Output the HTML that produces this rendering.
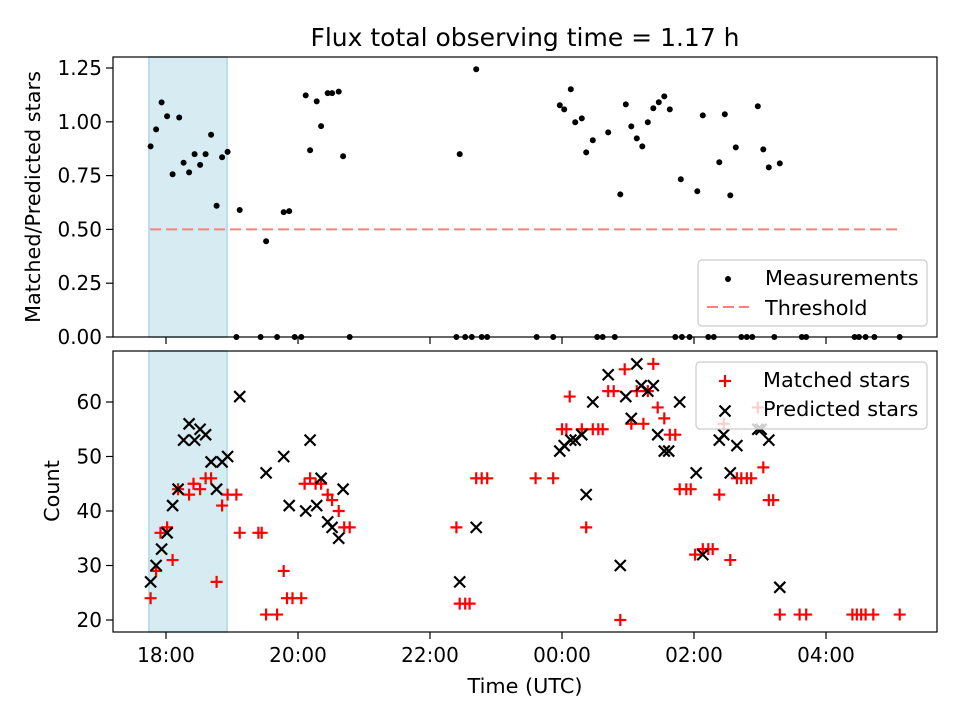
<!DOCTYPE html>
<html><head><meta charset="utf-8"><style>
html,body{margin:0;padding:0;background:#fff;}
svg{display:block;font-family:"DejaVu Sans","Liberation Sans",sans-serif;}
</style></head><body>
<svg id="chart" width="960" height="720" viewBox="0 0 960 720" xmlns="http://www.w3.org/2000/svg">
<text x="525" y="46" font-size="25" text-anchor="middle" fill="#000">Flux total observing time = 1.17 h</text>
<g id="topPanel"></g>
<g id="botPanel"></g>
<text transform="translate(40,197) rotate(-90)" font-size="20.8" text-anchor="middle">Matched/Predicted stars</text>
<text transform="translate(59,491) rotate(-90)" font-size="20.8" text-anchor="middle">Count</text>
<text x="525" y="693" font-size="20.8" text-anchor="middle">Time (UTC)</text>
</svg>
<script>
// minutes since 18:00 UTC
const ratioTimes=[-14,-9,-4,1,6,12,16,21,26,31,36,41,46,51,56,67,91,107,112,127,131,137,141,147,151,157,161,267,282,358,362,368,372,378,382,388,402,413,418,423,428,433,438,443,448,453,458,468,483,488,503,508,513,518,538,543,548,558];
const ratioValues=[0.886,0.965,1.09,1.026,0.756,1.02,0.81,0.765,0.85,0.80,0.85,0.94,0.61,0.835,0.86,0.59,0.445,0.58,0.585,1.123,0.868,1.095,0.98,1.133,1.133,1.14,0.84,0.85,1.244,1.077,1.058,1.151,0.998,1.016,0.858,0.914,0.951,0.663,1.081,0.979,0.923,0.886,0.998,1.063,1.091,1.118,1.058,0.733,0.677,1.03,0.812,1.035,0.658,0.881,1.072,0.872,0.788,0.807];
const zeroTimes=[64,86,101,117,123,167,264,272,278,287,292,337,352,392,397,408,463,469,476,493,498,523,528,533,553,578,582,626,630,636,644,667];
const threshold=0.5;
const thresholdSpan=[-14.5,667];
const shadeSpan=[-15.5,55.5];
const matchedTimes=[-14,-9,-5,1,6,11,21,25,31,36,41,46,51,56,64,67,84,87,91,101,107,110,115,123,126,131,136,141,147,151,157,162,167,264,267,272,276,282,287,292,336,352,360,364,367,378,382,388,393,397,402,407,413,417,423,428,434,438,443,447,453,458,463,467,473,477,481,488,493,497,503,507,513,519,523,528,532,538,543,548,552,558,576,582,624,628,632,636,643,667];
const matchedValues=[24,29,36,37,31,44,43,45,44,46,46,27,41,43,43,36,36,36,21,21,29,24,24,24,45,46,45,45,43,42,40,37,37,37,23,23,23,46,46,46,46,46,55,55,61,55,37,55,55,55,62,62,20,66,56,62,56,62,67,59,57,54,54,44,44,44,32,33,33,33,43,56,31,46,46,46,46,59,48,42,42,21,21,21,21,21,21,21,21,21];
const predTimes=[-14,-9,-4,1,6,11,16,21,26,31,36,41,46,51,56,67,91,107,112,127,131,137,141,147,151,157,161,267,282,358,362,368,372,378,382,388,402,413,418,423,428,432,438,443,447,453,457,467,482,488,503,507,513,519,538,541,548,558];
const predValues=[27,30,33,36,41,44,53,56,53,55,54,49,44,49,50,61,47,50,41,40,53,41,46,38,37,35,44,27,37,51,52,53,53,54,43,60,65,30,61,57,67,63,62,63,54,51,51,60,47,32,53,54,47,52,55,55,53,26];
const xTickMinutes=[0,120,240,360,480,600];
const xTickLabels=["18:00","20:00","22:00","00:00","02:00","04:00"];
const topTicks=[0,0.25,0.5,0.75,1.0,1.25];
const topTickLabels=["0.00","0.25","0.50","0.75","1.00","1.25"];
const botTicks=[20,30,40,50,60];
const botTickLabels=["20","30","40","50","60"];

const NS="http://www.w3.org/2000/svg";
const L=113,R=937;
const xs=m=>166+m*1.1;
const yT=v=>337-v*215.2;
const yB=v=>620-(v-20)*5.45;
function mk(tag,attrs,parent){const e=document.createElementNS(NS,tag);for(const k in attrs)e.setAttribute(k,attrs[k]);parent.appendChild(e);return e;}
const topG=document.getElementById('topPanel'),botG=document.getElementById('botPanel');

function panel(g,y0,y1,yf,ticks,labels,showX){
  const sh=mk('rect',{x:xs(shadeSpan[0]),y:y0,width:xs(shadeSpan[1])-xs(shadeSpan[0]),height:y1-y0,fill:'#add8e6','fill-opacity':0.5,stroke:'#add8e6','stroke-width':1.5},g);
  
  
  ticks.forEach((t,i)=>{
    const y=yf(t);
    const tl=mk('line',{x1:L-7,x2:L,y1:y,y2:y,stroke:'#000','stroke-width':1.2},g);
    
    
    const tx=mk('text',{x:L-11,y:y+7,'font-size':20,'text-anchor':'end'},g);
    tx.textContent=labels[i];
    
    
  });
  xTickMinutes.forEach((m,i)=>{
    const x=xs(m);
    const tl=mk('line',{x1:x,x2:x,y1:y1,y2:y1+7,stroke:'#000','stroke-width':1.2},g);
    
    
    if(showX){
      const tx=mk('text',{x:x,y:y1+30,'font-size':20,'text-anchor':'middle'},g);
      tx.textContent=xTickLabels[i];
      
      
    }
  });
}
panel(topG,57,337,yT,topTicks,topTickLabels,false);
panel(botG,351,632,yB,botTicks,botTickLabels,true);

const th=mk('line',{x1:xs(thresholdSpan[0]),x2:xs(thresholdSpan[1]),y1:yT(threshold),y2:yT(threshold),stroke:'#ff7f7f','stroke-width':2,'stroke-dasharray':'11 5'},topG);


ratioTimes.forEach((m,i)=>{
  const c=mk('circle',{cx:xs(m),cy:yT(ratioValues[i]),r:3,fill:'#000'},topG);
  
  
});
zeroTimes.forEach(m=>{
  const c=mk('circle',{cx:xs(m),cy:yT(0),r:3,fill:'#000'},topG);
  
  
});
function plus(x,y,g){return mk('path',{d:`M${x-6},${y}H${x+6}M${x},${y-6}V${y+6}`,stroke:'#f00','stroke-width':2.2,fill:'none'},g);}
function cross(x,y,g){return mk('path',{d:`M${x-5.5},${y-5.5}L${x+5.5},${y+5.5}M${x-5.5},${y+5.5}L${x+5.5},${y-5.5}`,stroke:'#000','stroke-width':2.2,fill:'none'},g);}
matchedTimes.forEach((m,i)=>{
  const p=plus(xs(m),yB(matchedValues[i]),botG);
  
  
});
predTimes.forEach((m,i)=>{
  const p=cross(xs(m),yB(predValues[i]),botG);
  
  
});
[[topG,57,337],[botG,351,632]].forEach(([g,a,b])=>{
  const f=mk('rect',{x:L,y:a,width:R-L,height:b-a,fill:'none',stroke:'#000','stroke-width':1.2},g);
  
  
});
const lg1=mk('g',{},topG);


mk('rect',{x:698,y:260,width:229,height:66,rx:4,fill:'#fff','fill-opacity':0.8,stroke:'#ccc','stroke-width':1.2},lg1);
mk('circle',{cx:728,cy:279,r:3,fill:'#000'},lg1);
let t=mk('text',{x:765,y:285,'font-size':20.8},lg1);t.textContent='Measurements';
mk('line',{x1:707,x2:749,y1:307,y2:307,stroke:'#ff7f7f','stroke-width':2,'stroke-dasharray':'11 5'},lg1);
t=mk('text',{x:765,y:315,'font-size':20.8},lg1);t.textContent='Threshold';
const lg2=mk('g',{},botG);


mk('rect',{x:696,y:362,width:231,height:67,rx:4,fill:'#fff','fill-opacity':0.8,stroke:'#ccc','stroke-width':1.2},lg2);
plus(725,381,lg2);
t=mk('text',{x:763,y:387,'font-size':20.8},lg2);t.textContent='Matched stars';
cross(725,411,lg2);
t=mk('text',{x:763,y:416,'font-size':20.8},lg2);t.textContent='Predicted stars';
</script>
</body></html>
